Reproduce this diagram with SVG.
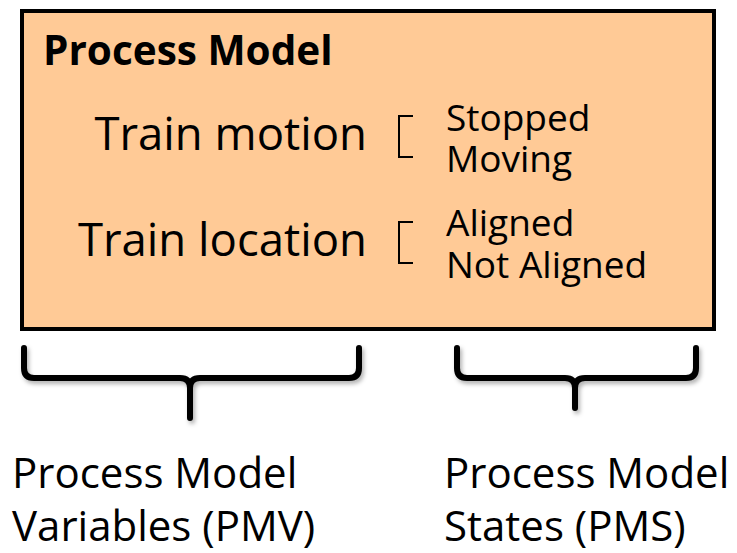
<svg xmlns="http://www.w3.org/2000/svg" width="737" height="553" viewBox="0 0 737 553">
<style>
text{font-family:"Open Sans","Noto Sans","Liberation Sans",sans-serif;fill:#000}
.t{font-size:45.5px}
.s{font-size:37px}
.b{font-size:42px}
.br{fill:none;stroke:#000;stroke-width:2}
.brace{fill:none;stroke:#000;stroke-width:6;stroke-linejoin:round;stroke-linecap:round}
</style>
<defs>
<filter id="sh" x="-10%" y="-20%" width="130%" height="160%">
<feDropShadow dx="2" dy="3" stdDeviation="2" flood-color="#000" flood-opacity="0.3"/>
</filter>
</defs>
<g id="process-model">
<rect x="22" y="11" width="692" height="318" fill="#FFCA96" stroke="#000" stroke-width="4"/>
<text x="43" y="65" font-weight="bold" style="font-size:40.5px">Process Model</text>
<text class="t" x="367" y="150" text-anchor="end">Train motion</text>
<text class="t" x="367" y="256" text-anchor="end">Train location</text>
<path class="br" d="M413,116 H399 V157 H413"/>
<path class="br" d="M413,222 H399 V263 H413"/>
<text class="s" x="446" y="131">Stopped</text>
<text class="s" x="446" y="172">Moving</text>
<text class="s" x="446" y="236">Aligned</text>
<text class="s" x="446" y="278">Not Aligned</text>
</g>
<g id="connectors" filter="url(#sh)">
<path class="brace" d="M24,348 V368 Q24,378 34,378 H180 Q190,378 190,388 V418 V388 Q190,378 200,378 H349 Q359,378 359,368 V348"/>
<path class="brace" d="M457,348 V368 Q457,378 467,378 H565 Q575,378 575,388 V408 V388 Q575,378 585,378 H686 Q696,378 696,368 V348"/>
</g>
<g id="pmv-label">
<text class="b" x="12" y="488">Process Model</text>
<text class="b" x="12" y="541">Variables (PMV)</text>
</g>
<g id="pms-label">
<text class="b" x="444" y="488">Process Model</text>
<text class="b" x="444" y="541">States (PMS)</text>
</g>
</svg>
